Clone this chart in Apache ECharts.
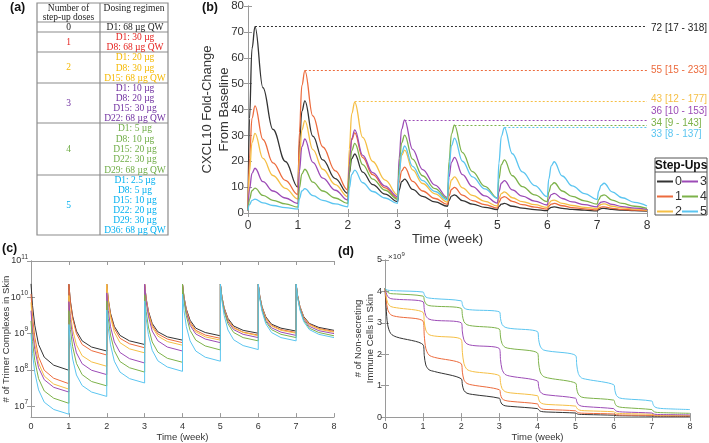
<!DOCTYPE html>
<html>
<head>
<meta charset="utf-8">
<script src="https://cdn.jsdelivr.net/npm/echarts@6/dist/echarts.min.js"></script>
<style>
html, body { margin: 0; padding: 0; background: #fff; }
#chart-container { width: 709px; height: 443px; }
</style>
</head>
<body>
<div id="chart-container"></div>
<script>
// ---- data ----
var stepNames = ["0", "1", "2", "3", "4", "5"];
var lineColors = ["#333333", "#EC6B3D", "#F5BF45", "#9C4BB6", "#7DB24A", "#5BC5F0"];

// (b) CXCL10 fold-change from baseline
var timeB = [0, 0.03, 0.08, 0.14, 0.3, 0.5, 0.75,
  1, 1.03, 1.08, 1.14, 1.3, 1.5, 1.75,
  2, 2.03, 2.08, 2.14, 2.3, 2.5, 2.75,
  3, 3.03, 3.08, 3.14, 3.3, 3.5, 3.75,
  4, 4.03, 4.08, 4.14, 4.3, 4.5, 4.75,
  5, 5.03, 5.08, 5.14, 5.3, 5.5, 5.75,
  6, 6.03, 6.08, 6.14, 6.3, 6.5, 6.75,
  7, 7.03, 7.08, 7.14, 7.3, 7.5, 7.75,
  8];
var cxcl0 = [1, 36.5, 63.5, 72, 48.4, 32.3, 19.9, 10, 26.7, 39.3, 43.3, 29.7, 20.5, 13.3,
  7.6, 15.2, 21.0, 22.8, 15.8, 11.0, 7.3, 4.4, 8.8, 12.1, 13.1, 9.1, 6.4, 4.3,
  2.6, 4.8, 6.5, 7.0, 4.8, 3.4, 2.2, 1.3, 2.5, 3.4, 3.7, 2.6, 1.9, 1.3,
  0.9, 1.65, 2.2, 2.4, 1.8, 1.4, 1.1, 0.8, 1.3, 1.7, 1.8, 1.4, 1.1, 0.9, 0.7];
var cxcl1 = [1, 21.2, 36.6, 41.4, 28.4, 19.4, 12.6, 7.1, 31.1, 49.3, 55, 37.5, 25.5, 16.3,
  8.9, 20.0, 28.3, 31.0, 21.4, 14.8, 9.7, 5.7, 11.7, 16.3, 17.7, 12.2, 8.5, 5.6,
  3.3, 6.6, 9.1, 9.9, 6.9, 4.8, 3.2, 1.9, 4.1, 5.8, 6.3, 4.5, 3.2, 2.3,
  1.5, 2.6, 3.4, 3.7, 2.8, 2.1, 1.6, 1.2, 1.8, 2.3, 2.4, 1.8, 1.4, 1.1, 0.9];
var cxcl2 = [1, 15.9, 27.2, 30.8, 21.1, 14.5, 9.5, 5.4, 20.6, 32.1, 35.7, 24.5, 16.9, 11.0,
  6.3, 24.6, 38.4, 42.8, 29.2, 19.9, 12.7, 7.0, 15.7, 22.2, 24.3, 16.7, 11.4, 7.4,
  4.2, 9.1, 12.8, 14.0, 9.7, 6.8, 4.5, 2.7, 5.5, 7.5, 8.2, 5.9, 4.4, 3.2,
  2.2, 3.6, 4.7, 5.0, 3.7, 2.9, 2.2, 1.7, 2.6, 3.3, 3.5, 2.6, 2.0, 1.5, 1.1];
var cxcl3 = [1, 9.2, 15.3, 17.3, 12.1, 8.5, 5.8, 3.6, 16.1, 25.6, 28.6, 19.6, 13.5, 8.8,
  5.0, 18.6, 28.8, 32.1, 22.3, 15.6, 10.4, 6.3, 21.2, 32.4, 36, 24.6, 16.8, 10.8,
  6.0, 13.8, 19.6, 21.5, 14.8, 10.2, 6.6, 3.8, 8.2, 11.5, 12.5, 8.9, 6.5, 4.6,
  3.1, 5.4, 7.1, 7.6, 5.6, 4.3, 3.2, 2.4, 3.4, 4.2, 4.4, 3.3, 2.5, 1.9, 1.4];
var cxcl4 = [1, 5.3, 8.6, 9.6, 6.8, 4.9, 3.5, 2.3, 9.6, 15.1, 16.9, 11.9, 8.5, 5.8,
  3.7, 15.3, 24.1, 26.9, 18.7, 13.1, 8.8, 5.3, 17.7, 27.1, 30.1, 20.8, 14.4, 9.4,
  5.5, 19.8, 30.6, 34, 23.3, 16.0, 10.3, 5.8, 13.2, 18.7, 20.5, 14.4, 10.2, 7.0,
  4.4, 8.1, 10.8, 11.7, 8.5, 6.4, 4.7, 3.4, 5.2, 6.6, 7.0, 5.0, 3.7, 2.6, 1.8];
var cxcl5 = [1, 3.2, 4.9, 5.4, 3.9, 2.9, 2.1, 1.5, 5.5, 8.5, 9.4, 6.7, 4.9, 3.5,
  2.4, 9.5, 14.9, 16.6, 11.7, 8.3, 5.8, 3.7, 14.8, 23.2, 25.9, 18.0, 12.5, 8.3,
  5.0, 17.0, 26.0, 28.9, 20.0, 14.0, 9.3, 5.6, 19.3, 29.7, 33, 22.9, 15.9, 10.6,
  6.3, 13.1, 18.2, 19.8, 14.3, 10.5, 7.5, 5.2, 8.4, 10.7, 11.5, 8.2, 5.9, 4.1, 2.7];
var peakLevels = [72, 55, 43, 36, 34, 33];
var peakWeeks = [0.14, 1.14, 2.14, 3.14, 4.14, 5.14];
var peakLabels = ["72 [17 - 318]", "55 [15 - 233]", "43 [12 - 177]", "36 [10 - 153]", "34 [9 - 143]", "33 [8 - 137]"];

// (c) trimer complexes in skin, log10 of count
var timeC = [0, 0.04, 0.1, 0.2, 0.35, 0.6, 1,
  1, 1.04, 1.1, 1.2, 1.35, 1.6, 2,
  2, 2.04, 2.1, 2.2, 2.35, 2.6, 3,
  3, 3.04, 3.1, 3.2, 3.35, 3.6, 4,
  4, 4.04, 4.1, 4.2, 4.35, 4.6, 5,
  5, 5.04, 5.1, 5.2, 5.35, 5.6, 6,
  6, 6.04, 6.1, 6.2, 6.35, 6.6, 7,
  7, 7.04, 7.1, 7.2, 7.35, 7.6, 8];
var trimer0 = [10.37, 9.78, 9.23, 8.70, 8.35, 8.13, 7.99, 10.36, 9.90, 9.48, 9.07, 8.80, 8.63, 8.52,
  10.36, 9.95, 9.56, 9.20, 8.95, 8.80, 8.70, 10.36, 9.98, 9.62, 9.28, 9.05, 8.91, 8.82,
  10.36, 10.01, 9.68, 9.37, 9.15, 9.03, 8.94, 10.36, 10.02, 9.71, 9.42, 9.21, 9.09, 9.01,
  10.36, 10.04, 9.74, 9.46, 9.26, 9.15, 9.07, 10.36, 10.04, 9.75, 9.47, 9.28, 9.17, 9.09];
var trimer1 = [10.09, 9.47, 8.90, 8.36, 7.99, 7.77, 7.62, 10.36, 9.87, 9.42, 9.00, 8.70, 8.53, 8.41,
  10.36, 9.92, 9.52, 9.14, 8.87, 8.72, 8.61, 10.36, 9.96, 9.59, 9.23, 8.99, 8.85, 8.75,
  10.36, 9.99, 9.65, 9.32, 9.09, 8.96, 8.87, 10.36, 10.01, 9.69, 9.38, 9.17, 9.04, 8.96,
  10.36, 10.03, 9.72, 9.43, 9.23, 9.11, 9.03, 10.36, 10.04, 9.74, 9.45, 9.26, 9.14, 9.06];
var trimer2 = [9.86, 9.26, 8.71, 8.19, 7.83, 7.61, 7.47, 10.05, 9.56, 9.11, 8.69, 8.39, 8.22, 8.10,
  10.36, 9.89, 9.45, 9.04, 8.75, 8.58, 8.47, 10.36, 9.94, 9.55, 9.18, 8.93, 8.78, 8.68,
  10.36, 9.98, 9.62, 9.28, 9.05, 8.91, 8.82, 10.36, 10.01, 9.68, 9.37, 9.15, 9.03, 8.94,
  10.36, 10.02, 9.71, 9.42, 9.21, 9.09, 9.01, 10.36, 10.03, 9.73, 9.44, 9.24, 9.12, 9.04];
var trimer3 = [9.63, 9.07, 8.56, 8.06, 7.73, 7.52, 7.39, 9.88, 9.38, 8.92, 8.47, 8.17, 7.99, 7.87,
  10.12, 9.64, 9.19, 8.77, 8.48, 8.31, 8.19, 10.36, 9.90, 9.48, 9.07, 8.80, 8.63, 8.52,
  10.36, 9.96, 9.59, 9.23, 8.99, 8.85, 8.75, 10.36, 9.99, 9.65, 9.33, 9.11, 8.98, 8.89,
  10.36, 10.01, 9.68, 9.37, 9.16, 9.04, 8.95, 10.36, 10.02, 9.71, 9.41, 9.20, 9.08, 9.00];
var trimer4 = [9.35, 8.78, 8.26, 7.76, 7.42, 7.22, 7.08, 9.63, 9.11, 8.64, 8.18, 7.87, 7.68, 7.56,
  9.90, 9.41, 8.96, 8.53, 8.23, 8.06, 7.94, 10.07, 9.61, 9.18, 8.77, 8.49, 8.32, 8.21,
  10.36, 9.91, 9.49, 9.09, 8.82, 8.66, 8.55, 10.36, 9.97, 9.61, 9.27, 9.03, 8.89, 8.80,
  10.36, 9.99, 9.65, 9.33, 9.11, 8.98, 8.89, 10.36, 10.01, 9.68, 9.37, 9.15, 9.03, 8.94];
var trimer5 = [9.00, 8.45, 7.93, 7.45, 7.11, 6.91, 6.78, 9.25, 8.76, 8.30, 7.86, 7.57, 7.39, 7.27,
  9.65, 9.15, 8.69, 8.24, 7.94, 7.76, 7.64, 9.90, 9.42, 8.97, 8.54, 8.25, 8.08, 7.96,
  10.09, 9.63, 9.20, 8.80, 8.52, 8.35, 8.24, 10.36, 9.91, 9.50, 9.10, 8.83, 8.67, 8.56,
  10.36, 9.97, 9.61, 9.27, 9.03, 8.89, 8.80, 10.36, 9.99, 9.65, 9.33, 9.11, 8.98, 8.89];
var logTicks = [7, 8, 9, 10, 11];

// (d) non-secreting immune cells in skin, x 10^9
var timeD = [0, 0.03, 0.07, 0.15, 0.3,
  1, 1.03, 1.07, 1.15, 1.3,
  2, 2.03, 2.07, 2.15, 2.3,
  3, 3.03, 3.07, 3.15, 3.3,
  4, 4.03, 4.07, 4.15, 4.3,
  5, 5.03, 5.07, 5.15, 5.3,
  6, 6.03, 6.07, 6.15, 6.3,
  7, 7.03, 7.07, 7.15, 7.3,
  8];
var cells0 = [4.1, 3.48, 2.94, 2.66, 2.55, 2.3, 1.96, 1.66, 1.51, 1.45, 1.22, 1.02, 0.85, 0.76, 0.72,
  0.6, 0.50, 0.41, 0.36, 0.34, 0.27, 0.23, 0.19, 0.17, 0.16, 0.13, 0.11, 0.09, 0.085, 0.08,
  0.06, 0.052, 0.045, 0.042, 0.04, 0.03, 0.028, 0.026, 0.025, 0.025, 0.02];
var cells1 = [4.1, 3.74, 3.43, 3.26, 3.2, 3.05, 2.59, 2.19, 1.98, 1.9, 1.7, 1.43, 1.19, 1.07, 1.02,
  0.87, 0.72, 0.59, 0.53, 0.5, 0.42, 0.35, 0.29, 0.25, 0.24, 0.2, 0.168, 0.14, 0.126, 0.12,
  0.1, 0.086, 0.074, 0.068, 0.065, 0.055, 0.049, 0.044, 0.041, 0.04, 0.035];
var cells2 = [4.1, 3.85, 3.64, 3.52, 3.48, 3.33, 3.03, 2.77, 2.63, 2.58, 2.47, 2.06, 1.71, 1.52, 1.45,
  1.32, 1.1, 0.91, 0.81, 0.77, 0.68, 0.57, 0.47, 0.42, 0.4, 0.35, 0.29, 0.24, 0.21, 0.2,
  0.17, 0.146, 0.125, 0.115, 0.11, 0.09, 0.078, 0.068, 0.062, 0.06, 0.05];
var cells3 = [4.1, 3.96, 3.84, 3.77, 3.75, 3.67, 3.43, 3.23, 3.12, 3.08, 3.0, 2.71, 2.46, 2.33, 2.28,
  2.18, 1.83, 1.52, 1.36, 1.3, 1.15, 0.97, 0.81, 0.73, 0.7, 0.6, 0.49, 0.40, 0.35, 0.33,
  0.27, 0.23, 0.19, 0.17, 0.16, 0.13, 0.11, 0.092, 0.083, 0.08, 0.07];
var cells4 = [4.1, 4.03, 3.97, 3.93, 3.92, 3.85, 3.72, 3.61, 3.55, 3.53, 3.46, 3.24, 3.04, 2.94, 2.9,
  2.8, 2.55, 2.34, 2.22, 2.18, 2.04, 1.72, 1.44, 1.30, 1.24, 1.08, 0.89, 0.73, 0.64, 0.61,
  0.54, 0.44, 0.36, 0.32, 0.3, 0.24, 0.2, 0.165, 0.147, 0.14, 0.12];
var cells5 = [4.1, 4.07, 4.04, 4.03, 4.02, 3.98, 3.90, 3.82, 3.79, 3.77, 3.7, 3.58, 3.48, 3.43, 3.41,
  3.35, 3.14, 2.95, 2.86, 2.82, 2.72, 2.47, 2.26, 2.14, 2.1, 1.96, 1.66, 1.39, 1.25, 1.2,
  1.03, 0.85, 0.69, 0.61, 0.58, 0.51, 0.41, 0.33, 0.29, 0.27, 0.24];

// (a) dosing table
var tableDoses = ["0", "1", "2", "3", "4", "5"];
var tableRegimens = [
  ["D1: 68 µg QW"],
  ["D1: 30 µg", "D8: 68 µg QW"],
  ["D1: 20 µg", "D8: 30 µg", "D15: 68 µg QW"],
  ["D1: 10 µg", "D8: 20 µg", "D15: 30 µg", "D22: 68 µg QW"],
  ["D1: 5 µg", "D8: 10 µg", "D15: 20 µg", "D22: 30 µg", "D29: 68 µg QW"],
  ["D1: 2.5 µg", "D8: 5 µg", "D15: 10 µg", "D22: 20 µg", "D29: 30 µg", "D36: 68 µg QW"]
];
var tableColors = ["#222222", "#E5231F", "#F5B800", "#7030A0", "#70AD47", "#00B0F0"];

var cxclSeries = [cxcl0, cxcl1, cxcl2, cxcl3, cxcl4, cxcl5];
var trimerSeries = [trimer0, trimer1, trimer2, trimer3, trimer4, trimer5];
var cellSeries = [cells0, cells1, cells2, cells3, cells4, cells5];

// ---- chart ----
var dom = document.getElementById("chart-container");
var myChart = echarts.init(dom, null, { renderer: "canvas" });

var axisGray = "#9a9a9a";
var textGray = "#333333";
var sans = "Liberation Sans";
var serif = "Liberation Serif";

function pairs(t, v) {
  return t.map(function (x, i) { return [x, v[i]]; });
}

function timeAxes(grid, fontSize, margin, nameGap, nameSize) {
  return [
    {
      type: "value", gridIndex: grid, min: 0, max: 8, interval: 1,
      name: "Time (week)", nameLocation: "middle", nameGap: nameGap,
      nameTextStyle: { fontSize: nameSize, color: textGray },
      axisLine: { lineStyle: { color: axisGray } },
      axisTick: { inside: true, length: 4, lineStyle: { color: axisGray } },
      axisLabel: { fontSize: fontSize, color: textGray, margin: margin },
      splitLine: { show: false }
    },
    {
      type: "value", gridIndex: grid, position: "top", min: 0, max: 8, interval: 1,
      axisLine: { lineStyle: { color: axisGray } },
      axisTick: { inside: true, length: 4, lineStyle: { color: axisGray } },
      axisLabel: { show: false },
      splitLine: { show: false }
    }
  ];
}

function rightAxis(grid, min, max, interval, custom) {
  var ax = {
    type: "value", gridIndex: grid, position: "right", min: min, max: max,
    axisLine: { show: true, lineStyle: { color: axisGray } },
    axisTick: { show: true, inside: true, length: 4, lineStyle: { color: axisGray } },
    axisLabel: { show: false },
    splitLine: { show: false }
  };
  if (interval) ax.interval = interval;
  if (custom) ax.axisTick.customValues = custom;
  return ax;
}

var xAxes = [].concat(timeAxes(0, 12, 7, 20, 13), timeAxes(1, 9, 5, 12, 9.5), timeAxes(2, 9, 5, 12, 9.5));

var yAxes = [
  {
    type: "value", gridIndex: 0, min: 0, max: 80, interval: 10,
    name: "CXCL10 Fold-Change\nFrom Baseline", nameLocation: "middle", nameGap: 15, nameMoveOverlap: false,
    nameTextStyle: { fontSize: 13, color: textGray, lineHeight: 17 },
    axisLine: { show: true, lineStyle: { color: axisGray } },
    axisTick: { show: true, inside: true, length: 4, lineStyle: { color: axisGray } },
    axisLabel: { fontSize: 11.5, color: textGray, margin: 4 },
    splitLine: { show: false }
  },
  rightAxis(0, 0, 80, 10),
  {
    type: "value", gridIndex: 1, min: 6.7, max: 11,
    name: "# of Trimer Complexes in Skin", nameLocation: "middle", nameGap: 20, nameMoveOverlap: false,
    nameTextStyle: { fontSize: 9.5, color: textGray },
    axisLine: { show: true, lineStyle: { color: axisGray } },
    axisTick: { show: true, inside: true, length: 4, customValues: logTicks, lineStyle: { color: axisGray } },
    axisLabel: {
      color: textGray, margin: 3, customValues: logTicks,
      formatter: function (v) { return "{b|10}{e|" + v + "}"; },
      rich: {
        b: { fontSize: 9, color: textGray, lineHeight: 15, verticalAlign: "middle" },
        e: { fontSize: 6.5, color: textGray, lineHeight: 8, verticalAlign: "top" }
      }
    },
    splitLine: { show: false }
  },
  rightAxis(1, 6.7, 11, null, logTicks),
  {
    type: "value", gridIndex: 2, min: 0, max: 5, interval: 1,
    name: "# of Non-secreting\nImmune Cells in Skin", nameLocation: "middle", nameGap: 9, nameMoveOverlap: false,
    nameTextStyle: { fontSize: 9.5, color: textGray, lineHeight: 12 },
    axisLine: { show: true, lineStyle: { color: axisGray } },
    axisTick: { show: true, inside: true, length: 4, lineStyle: { color: axisGray } },
    axisLabel: { fontSize: 9, color: textGray, margin: 3 },
    splitLine: { show: false }
  },
  rightAxis(2, 0, 5, 1)
];

var series = [];
stepNames.forEach(function (name, i) {
  series.push({
    name: name, type: "line", xAxisIndex: 0, yAxisIndex: 0,
    data: pairs(timeB, cxclSeries[i]),
    showSymbol: false, smooth: 0.4, smoothMonotone: "x",
    lineStyle: { width: 1.3, color: lineColors[i] }, itemStyle: { color: lineColors[i] },
    markLine: {
      silent: true, symbol: "none", label: { show: false },
      lineStyle: { type: [2, 2], width: 1, color: lineColors[i] },
      data: [[{ coord: [peakWeeks[i], peakLevels[i]] }, { coord: [8, peakLevels[i]] }]]
    }
  });
});
stepNames.forEach(function (name, i) {
  series.push({
    name: name, type: "line", xAxisIndex: 2, yAxisIndex: 2,
    data: pairs(timeC, trimerSeries[i]),
    showSymbol: false, smooth: false,
    lineStyle: { width: 1, color: lineColors[i] }, itemStyle: { color: lineColors[i] }
  });
});
stepNames.forEach(function (name, i) {
  series.push({
    name: name, type: "line", xAxisIndex: 4, yAxisIndex: 4,
    data: pairs(timeD, cellSeries[i]),
    showSymbol: false, smooth: 0.3,
    lineStyle: { width: 1, color: lineColors[i] }, itemStyle: { color: lineColors[i] }
  });
});

function label(x, y, text, opts) {
  var style = { text: text, fill: textGray, fontFamily: sans, fontSize: 12, align: "left", verticalAlign: "middle" };
  for (var k in opts) style[k] = opts[k];
  return { type: "text", x: x, y: y, style: style, z: 10 };
}

var els = [];
// panel tags
els.push(label(10, 8, "(a)", { fontWeight: "bold", fontSize: 12.5, fill: "#111" }));
els.push(label(202, 8, "(b)", { fontWeight: "bold", fontSize: 12.5, fill: "#111" }));
els.push(label(2, 249, "(c)", { fontWeight: "bold", fontSize: 12.5, fill: "#111" }));
els.push(label(338, 252, "(d)", { fontWeight: "bold", fontSize: 12.5, fill: "#111" }));

// table (a)
var tLeft = 37, tMid = 100, tRight = 168, tTop = 3;
var rowEdges = [22, 32, 52, 83, 123, 175, 235];
var tableLine = "#8c8c8c";
els.push({ type: "rect", shape: { x: tLeft, y: tTop, width: tRight - tLeft, height: rowEdges[6] - tTop },
  style: { fill: "#fff", stroke: tableLine, lineWidth: 1.2 } });
els.push({ type: "line", shape: { x1: tMid, y1: tTop, x2: tMid, y2: rowEdges[6] }, style: { stroke: tableLine, lineWidth: 1.2 } });
els.push(label((tLeft + tMid) / 2, 8, "Number of", { fontFamily: serif, fontSize: 9.5, align: "center", fill: "#222" }));
els.push(label((tLeft + tMid) / 2, 17, "step-up doses", { fontFamily: serif, fontSize: 9.5, align: "center", fill: "#222" }));
els.push(label((tMid + tRight) / 2, 8, "Dosing regimen", { fontFamily: serif, fontSize: 9.5, align: "center", fill: "#222" }));
tableDoses.forEach(function (d, i) {
  var top = rowEdges[i], bottom = rowEdges[i + 1];
  els.push({ type: "line", shape: { x1: tLeft, y1: top, x2: tRight, y2: top }, style: { stroke: tableLine, lineWidth: 1.2 } });
  els.push(label((tLeft + tMid) / 2, (top + bottom) / 2, d, { fontFamily: serif, fontSize: 9.5, align: "center", fill: tableColors[i] }));
  var lines = tableRegimens[i];
  var step = (bottom - top) / lines.length;
  lines.forEach(function (txt, k) {
    els.push(label((tMid + tRight) / 2 + 1, top + step * (k + 0.5) + 0.5, txt,
      { fontFamily: serif, fontSize: 9.5, align: "center", fill: tableColors[i] }));
  });
});

// peak annotations (b)
var peakLabelY = [28, 70, 99, 111, 123, 134];
peakLabels.forEach(function (t, i) {
  els.push(label(651, peakLabelY[i], t, { fontSize: 10, fill: i === 0 ? "#222" : lineColors[i] }));
});

// legend box (b)
els.push({ type: "rect", shape: { x: 655, y: 158, width: 52, height: 57 }, style: { fill: "#fff", stroke: "#555", lineWidth: 1 }, z: 1 });
els.push({ type: "line", shape: { x1: 655, y1: 172, x2: 707, y2: 172 }, style: { stroke: "#555", lineWidth: 1 }, z: 2 });
els.push(label(681, 165.5, "Step-Ups", { fontWeight: "bold", fontSize: 12, align: "center", fill: "#111" }));

// x10^9 multiplier (d)
els.push({ type: "text", x: 388, y: 257, z: 10, style: {
  text: "{a|\u00d710}{b|9}", fontFamily: sans, verticalAlign: "middle",
  rich: { a: { fontSize: 8, fill: textGray, lineHeight: 12, verticalAlign: "middle" },
          b: { fontSize: 6, fill: textGray, lineHeight: 7, verticalAlign: "top" } } } });

function legendPart(names, left) {
  return {
    data: names, left: left, top: 175, orient: "vertical", selectedMode: false,
    icon: "rect", itemWidth: 16, itemHeight: 2, itemGap: 2, padding: 0, z: 5,
    textStyle: { fontSize: 12.5, color: textGray, lineHeight: 11, padding: [0, 0, 0, -3] }
  };
}

var option = {
  animation: false,
  textStyle: { fontFamily: sans },
  grid: [
    { left: 248, top: 6, width: 399, height: 207 },
    { left: 29, top: 261, width: 305, height: 157 },
    { left: 385, top: 260, width: 305, height: 158 }
  ],
  legend: [legendPart(["0", "1", "2"], 657), legendPart(["3", "4", "5"], 682)],
  xAxis: xAxes,
  yAxis: yAxes,
  series: series,
  graphic: { elements: els }
};

if (option && typeof option === "object") {
  myChart.setOption(option);
}
</script>
</body>
</html>
